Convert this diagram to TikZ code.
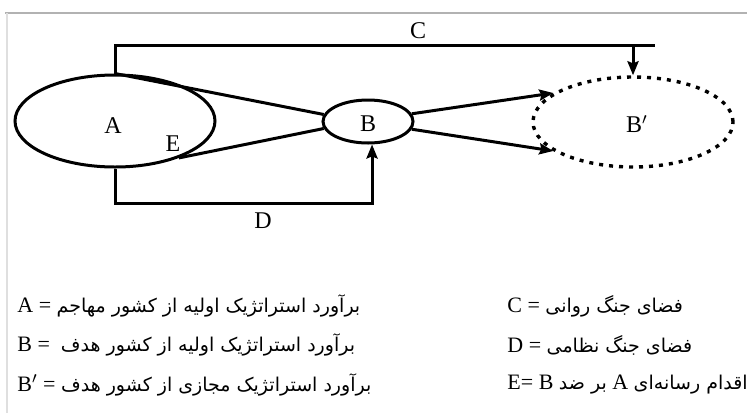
\documentclass[tikz,border=0pt]{standalone}
\usepackage{fontspec}
\setmainfont{Liberation Serif}
\newfontfamily\fa[Script=Arabic]{DejaVu Sans}
\TeXXeTstate=1
\usetikzlibrary{shapes.geometric,arrows.meta}
\newcommand\fatext[1]{{\fa\fontsize{9.5}{11}\selectfont\beginR #1\endR}}

\begin{document}
\begin{tikzpicture}[x=0.5pt,y=-0.5pt,
  every node/.style={font=\fontsize{12}{14}\selectfont},
  oval/.style={draw,ellipse,line width=1.5pt,inner sep=0pt},
  link/.style={line width=1.5pt},
  arr/.style={link,-{Stealth[length=7pt,width=5.5pt,inset=1pt]}},
  lgd/.style={anchor=west,inner sep=0pt,font=\fontsize{11}{13}\selectfont}]
  \useasboundingbox (0,0) rectangle (747,413);
  \draw[gray!60,line width=0.8pt] (5,13) -- (747,13);
  \draw[gray!25,line width=0.8pt] (7,13) -- (7,413);

  \node[oval,minimum width=100pt,minimum height=46pt] (A) at (115,121) {};
  \node[oval,minimum width=45pt,minimum height=21.5pt] (B) at (368,121.5) {};
  \node[oval,dash pattern=on 2pt off 3pt,line width=1.7pt,
        minimum width=100pt,minimum height=45pt] (Bp) at (633,122) {};
  \node at (113,126) {A};
  \node at (368,124) {B};
  \node at (637,124) {B$'$};
  \node (E) at (173,144) {E};

  \coordinate (Cend) at (655,45);
  \coordinate (Dbot) at (0,203);
  \draw[link] (A.north) |- (Cend);
  \draw[arr] (Bp.north |- Cend) -- (Bp.north);
  \node (C) at (418,31) {C};
  \draw[link] (A.north) -- (B.171);
  \draw[link] (A.-30) -- (B.189);
  \draw[arr] (A.south) -- (A.south |- Dbot) -| (B.-80);
  \node (D) at (263,221) {D};
  \draw[arr] (B.10) -- (Bp.160);
  \draw[arr] (B.-10) -- (Bp.200);

  \node[lgd] (la) at (17,306) {A~=~\fatext{برآورد استراتژیک اولیه از کشور مهاجم}};
  \node[lgd] (lb) at (17,345) {B~=~~\fatext{برآورد استراتژیک اولیه از کشور هدف}};
  \node[lgd] (lbp) at (17,385) {B$'$~=~\fatext{برآورد استراتژیک مجازی از کشور هدف}};
  \node[lgd] (lc) at (507,306) {C~=~\fatext{فضای جنگ روانی}};
  \node[lgd] (ld) at (507,345) {D~=~\fatext{فضای جنگ نظامی}};
  \node[lgd] (le) at (507,385) {E=~B~\fatext{بر ضد}~A~\fatext{اقدام رسانه‌ای}};
\end{tikzpicture}
\end{document}
